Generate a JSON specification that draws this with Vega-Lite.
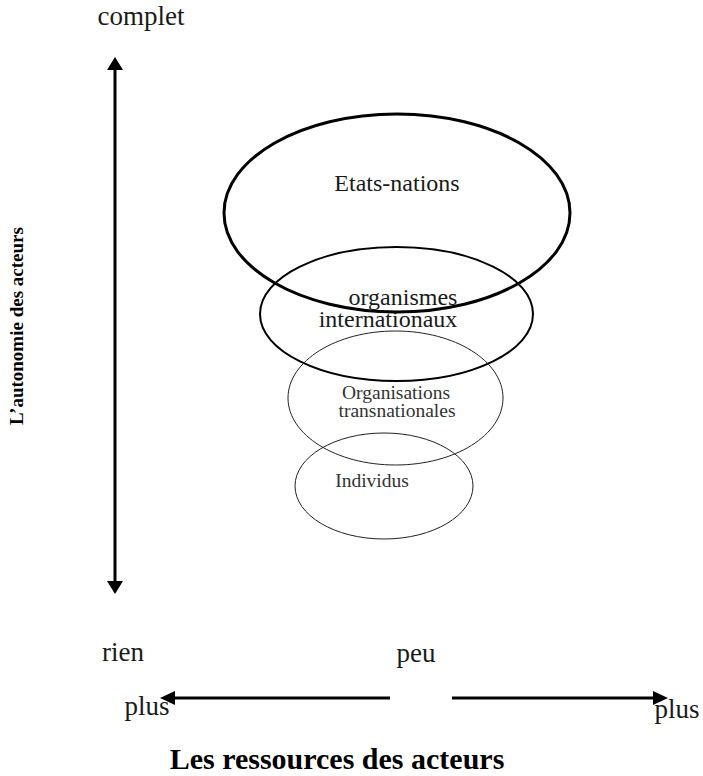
{
  "$schema": "https://vega.github.io/schema/vega-lite/v6.json",
  "width": 703,
  "height": 776,
  "padding": 0,
  "autosize": "none",
  "background": "white",
  "config": {"view": {"stroke": null}},
  "datasets": {
    "ellipses": [
      {"name": "Etats-nations", "x": 397, "y": 213},
      {"name": "organismes internationaux", "x": 396.5, "y": 314},
      {"name": "Organisations transnationales", "x": 395.5, "y": 398},
      {"name": "Individus", "x": 384, "y": 486}
    ],
    "arrows": [
      {"axis": "autonomie", "x": 115, "y": 68, "x2": 115, "y2": 582},
      {"axis": "ressources-gauche", "x": 390, "y": 698, "x2": 172, "y2": 698},
      {"axis": "ressources-droite", "x": 452, "y": 698, "x2": 656, "y2": 698}
    ],
    "heads": [
      {"dir": "up", "x": 115, "y": 57},
      {"dir": "down", "x": 115, "y": 594},
      {"dir": "left", "x": 160, "y": 698},
      {"dir": "right", "x": 668, "y": 698}
    ],
    "labels": [
      {"text": "complet", "group": "big", "x": 141, "y": 25},
      {"text": "rien", "group": "big", "x": 123, "y": 661},
      {"text": "peu", "group": "big", "x": 416, "y": 662},
      {"text": "plus", "group": "big", "x": 147, "y": 715},
      {"text": "plus", "group": "big", "x": 677, "y": 718},
      {"text": "Etats-nations", "group": "etats", "x": 397, "y": 191},
      {"text": "organismes", "group": "org", "x": 403, "y": 305},
      {"text": "internationaux", "group": "org", "x": 388, "y": 327},
      {"text": "Organisations", "group": "small", "x": 396, "y": 399},
      {"text": "transnationales", "group": "small", "x": 397, "y": 417},
      {"text": "Individus", "group": "small", "x": 372, "y": 487},
      {"text": "Les ressources des acteurs", "group": "titlex", "x": 337, "y": 769},
      {"text": "L’autonomie des acteurs", "group": "titley", "x": 23, "y": 326}
    ]
  },
  "encoding": {
    "x": {"field": "x", "type": "quantitative", "scale": {"domain": [0, 703], "nice": false, "zero": false}, "axis": null},
    "y": {"field": "y", "type": "quantitative", "scale": {"domain": [0, 776], "nice": false, "zero": false, "reverse": true}, "axis": null}
  },
  "layer": [
    {
      "data": {"name": "ellipses"},
      "transform": [{"filter": "datum.name === 'Etats-nations'"}],
      "mark": {"type": "point", "shape": "M -173 0 A 173 99 0 1 0 173 0 A 173 99 0 1 0 -173 0 Z", "size": 4, "filled": false, "stroke": "#000", "strokeWidth": 3, "opacity": 1}
    },
    {
      "data": {"name": "ellipses"},
      "transform": [{"filter": "datum.name === 'organismes internationaux'"}],
      "mark": {"type": "point", "shape": "M -136.5 0 A 136.5 67 0 1 0 136.5 0 A 136.5 67 0 1 0 -136.5 0 Z", "size": 4, "filled": false, "stroke": "#000", "strokeWidth": 2, "opacity": 1}
    },
    {
      "data": {"name": "ellipses"},
      "transform": [{"filter": "datum.name === 'Organisations transnationales'"}],
      "mark": {"type": "point", "shape": "M -107.5 0 A 107.5 67 0 1 0 107.5 0 A 107.5 67 0 1 0 -107.5 0 Z", "size": 4, "filled": false, "stroke": "#222", "strokeWidth": 1, "opacity": 1}
    },
    {
      "data": {"name": "ellipses"},
      "transform": [{"filter": "datum.name === 'Individus'"}],
      "mark": {"type": "point", "shape": "M -89 0 A 89 53 0 1 0 89 0 A 89 53 0 1 0 -89 0 Z", "size": 4, "filled": false, "stroke": "#222", "strokeWidth": 1, "opacity": 1}
    },
    {
      "data": {"name": "arrows"},
      "mark": {"type": "rule", "color": "#000", "strokeWidth": 3},
      "encoding": {
        "x2": {"field": "x2"},
        "y2": {"field": "y2"}
      }
    },
    {
      "data": {"name": "heads"},
      "mark": {"type": "point", "filled": true, "size": 4, "color": "#000", "opacity": 1, "strokeWidth": 0},
      "encoding": {
        "shape": {
          "field": "dir", "type": "nominal", "legend": null,
          "scale": {
            "domain": ["up", "down", "left", "right"],
            "range": ["M 0 0 L 8 13 L -8 13 Z", "M 0 0 L 8 -13 L -8 -13 Z", "M 0 0 L 15 -7 L 15 7 Z", "M 0 0 L -15 -7 L -15 7 Z"]
          }
        }
      }
    },
    {
      "data": {"name": "labels"},
      "transform": [{"filter": "datum.group === 'big'"}],
      "mark": {"type": "text", "font": "Liberation Serif", "fontSize": 27, "align": "center", "baseline": "alphabetic", "color": "#1a1a1a"},
      "encoding": {"text": {"field": "text"}}
    },
    {
      "data": {"name": "labels"},
      "transform": [{"filter": "datum.group === 'etats'"}],
      "mark": {"type": "text", "font": "Liberation Serif", "fontSize": 24, "align": "center", "baseline": "alphabetic", "color": "#1a1a1a"},
      "encoding": {"text": {"field": "text"}}
    },
    {
      "data": {"name": "labels"},
      "transform": [{"filter": "datum.group === 'org'"}],
      "mark": {"type": "text", "font": "Liberation Serif", "fontSize": 24, "align": "center", "baseline": "alphabetic", "color": "#1a1a1a"},
      "encoding": {"text": {"field": "text"}}
    },
    {
      "data": {"name": "labels"},
      "transform": [{"filter": "datum.group === 'small'"}],
      "mark": {"type": "text", "font": "Liberation Serif", "fontSize": 19.5, "align": "center", "baseline": "alphabetic", "color": "#333"},
      "encoding": {"text": {"field": "text"}}
    },
    {
      "data": {"name": "labels"},
      "transform": [{"filter": "datum.group === 'titlex'"}],
      "mark": {"type": "text", "font": "Liberation Serif", "fontSize": 30, "fontWeight": "bold", "align": "center", "baseline": "alphabetic", "color": "#000"},
      "encoding": {"text": {"field": "text"}}
    },
    {
      "data": {"name": "labels"},
      "transform": [{"filter": "datum.group === 'titley'"}],
      "mark": {"type": "text", "font": "Liberation Serif", "fontSize": 19, "fontWeight": "bold", "align": "center", "baseline": "alphabetic", "angle": 270, "color": "#000"},
      "encoding": {"text": {"field": "text"}}
    }
  ]
}
